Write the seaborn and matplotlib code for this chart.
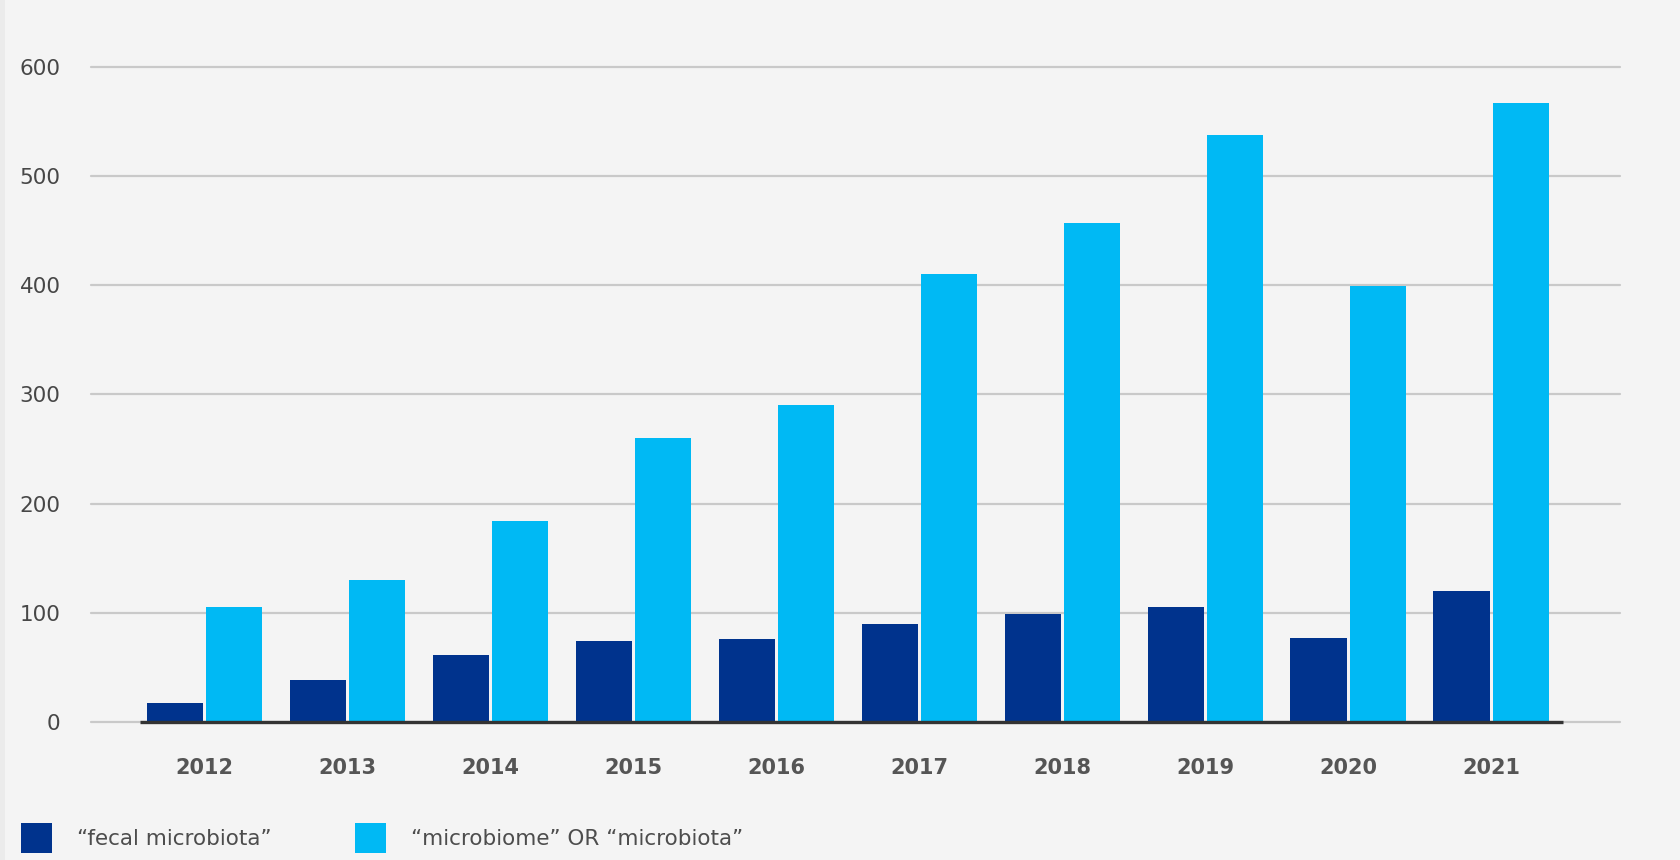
import matplotlib
matplotlib.use("Agg")
import matplotlib.pyplot as plt
import seaborn as sns
import pandas as pd
from matplotlib.patches import Rectangle, Patch

years = ["2012", "2013", "2014", "2015", "2016", "2017", "2018", "2019", "2020", "2021"]
fecal = [17, 38, 61, 74, 76, 90, 99, 105, 77, 120]
microbiome = [105, 130, 184, 260, 290, 410, 457, 537, 399, 567]
series_names = ["\u201cfecal microbiota\u201d", "\u201cmicrobiome\u201d OR \u201cmicrobiota\u201d"]
colors = ["#00338d", "#00b9f4"]
yticks = [0, 100, 200, 300, 400, 500, 600]

df = pd.DataFrame({
    "year": years * 2,
    "value": fecal + microbiome,
    "series": [series_names[0]] * len(years) + [series_names[1]] * len(years),
})

sns.set_theme(style="white")
plt.rcParams["font.family"] = ["DejaVu Sans"]

W, H = 1681, 860
fig = plt.figure(figsize=(W / 100, H / 100), dpi=100)
fig.patch.set_facecolor("#f4f4f4")
fig.patches.append(Rectangle((0, 0), 5 / W, 1, transform=fig.transFigure,
                             facecolor="#ebebeb", edgecolor="none", zorder=0))

ax_left, ax_right = 91 / W, 1620 / W
ax_bottom, ax_top = (H - 722) / H, (H - 23) / H
ax = fig.add_axes([ax_left, ax_bottom, ax_right - ax_left, ax_top - ax_bottom])
ax.set_facecolor("#f4f4f4")

sns.barplot(data=df, x="year", y="value", hue="series", palette=colors,
            width=0.83, gap=0.05, linewidth=0, saturation=1, ax=ax, zorder=3,
            legend=False)

ax.set_xlim(-0.794, 9.90)
ax.set_ylim(0, 640)
ax.set_yticks(yticks)
ax.set_yticklabels([str(v) for v in yticks])
for y in yticks:
    ax.axhline(y, color="#c9c9c9", lw=1.6, zorder=1, clip_on=False)
ax.hlines(0, -0.45, 9.5, color="#333333", lw=2.4, zorder=4, clip_on=False)

for s in ax.spines.values():
    s.set_visible(False)
ax.set_xlabel("")
ax.set_ylabel("")
ax.tick_params(axis="y", length=0, pad=22, labelsize=15.5, labelcolor="#474747")
ax.tick_params(axis="x", length=0, pad=26, labelsize=15, labelcolor="#555555")
for t in ax.get_xticklabels():
    t.set_fontweight("bold")

handles = [Patch(facecolor=c, edgecolor="none") for c in colors]
leg = fig.legend(handles, series_names, loc="center left",
                 bbox_to_anchor=(12 / W, (H - 838) / H), ncol=2, frameon=False,
                 fontsize=15.5, handlelength=1.45, handleheight=1.75,
                 handletextpad=1.15, columnspacing=3.9, borderaxespad=0)
for t in leg.get_texts():
    t.set_color("#4d4d4d")

fig.savefig("out.png", dpi=100, facecolor=fig.get_facecolor())
